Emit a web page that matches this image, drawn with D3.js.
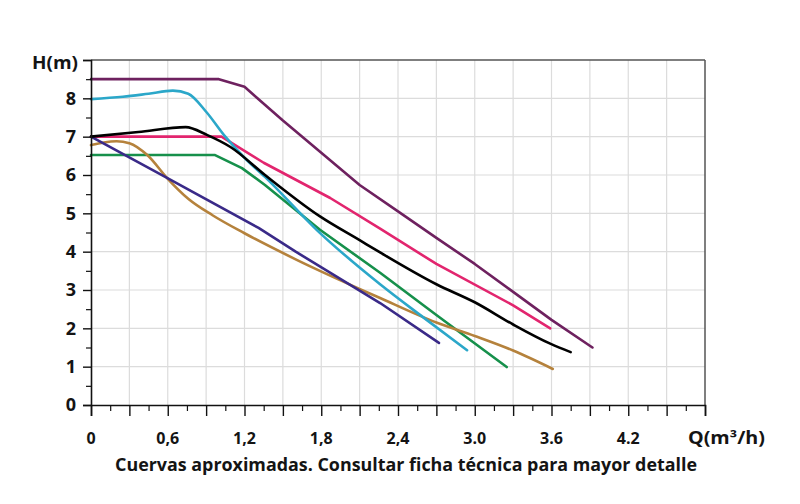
<!DOCTYPE html>
<html><head><meta charset="utf-8">
<script src="https://cdn.jsdelivr.net/npm/d3@7"></script>
<style>
html,body{margin:0;padding:0;background:#fff;}
svg{display:block;}
text{font-family:"Open Sans",Lato,sans-serif;font-weight:700;fill:#141414;}
</style></head><body>
<svg id="chart" width="800" height="504"></svg>
<script>
// ---- data ----
const xTickLabels = ["0","0,6","1,2","1,8","2,4","3.0","3.6","4.2"];
const xTickValues = [0,0.6,1.2,1.8,2.4,3.0,3.6,4.2];
const yTickValues = [0,1,2,3,4,5,6,7,8];
const xTitle = "Q(m³/h)";
const yTitle = "H(m)";
const caption = "Cuervas aproximadas. Consultar ficha técnica para mayor detalle";

const purpleQ = [0,1.0,1.2,1.5,1.8,2.1,2.4,2.7,3.0,3.3,3.6,3.92];
const purpleH = [8.5,8.5,8.3,7.42,6.58,5.74,5.05,4.36,3.68,2.95,2.22,1.5];
const cyanQ = [0,0.25,0.45,0.64,0.76,0.9,1.05,1.2,1.36,1.77,2.26,2.6,2.94];
const cyanH = [7.98,8.04,8.12,8.2,8.12,7.65,7.0,6.45,5.95,4.55,3.15,2.28,1.43];
const blackQ = [0,0.37,0.74,0.91,1.09,1.36,1.79,2.1,2.26,2.7,3.0,3.3,3.59,3.75];
const blackH = [7.0,7.12,7.25,7.04,6.73,6.0,4.92,4.3,3.98,3.15,2.68,2.1,1.6,1.38];
const pinkQ = [0,1.02,1.35,1.87,2.26,2.7,3.3,3.59];
const pinkH = [7.0,7.0,6.32,5.4,4.6,3.68,2.6,2.0];
const greenQ = [0,0.97,1.18,1.36,1.79,2.26,2.7,3.25];
const greenH = [6.52,6.52,6.18,5.74,4.57,3.45,2.35,0.99];
const brownQ = [0,0.1,0.2,0.3,0.44,0.6,0.76,0.95,1.2,1.6,2.26,2.7,3.0,3.3,3.61];
const brownH = [6.78,6.85,6.88,6.83,6.52,5.9,5.38,4.95,4.48,3.8,2.79,2.15,1.8,1.42,0.94];
const indigoQ = [0,0.58,1.31,1.6,2.26,2.72];
const indigoH = [7.0,5.95,4.62,4.0,2.66,1.62];

const series = [
  {q: purpleQ, h: purpleH, color: "#6e215f", smooth: false},
  {q: pinkQ, h: pinkH, color: "#e2256e", smooth: false},
  {q: greenQ, h: greenH, color: "#16904b", smooth: false},
  {q: brownQ, h: brownH, color: "#b5823c", smooth: true},
  {q: indigoQ, h: indigoH, color: "#3a2a88", smooth: false},
  {q: cyanQ, h: cyanH, color: "#2ba7c9", smooth: true},
  {q: blackQ, h: blackH, color: "#000000", smooth: true}
];

// ---- layout ----
const svg = d3.select("#chart");
const x = d3.scaleLinear().domain([0,4.8]).range([91,705]);
const y = d3.scaleLinear().domain([0,9]).range([405,60]);

// grid
const vGrid = d3.range(1,16).map(i => i*0.3);
svg.append("g").selectAll("line").data(vGrid).join("line")
  .attr("x1", d=>x(d)).attr("x2", d=>x(d)).attr("y1", y(0)).attr("y2", y(9))
  .attr("stroke", "#dcdcdc").attr("stroke-width", 1.2);
svg.append("g").selectAll("line").data(d3.range(1,9)).join("line")
  .attr("x1", x(0)).attr("x2", x(4.8)).attr("y1", d=>y(d)).attr("y2", d=>y(d))
  .attr("stroke", "#dcdcdc").attr("stroke-width", 1.2);

// frame top & right
svg.append("line").attr("x1", x(0)).attr("x2", x(4.8)).attr("y1", y(9)).attr("y2", y(9))
  .attr("stroke", "#555").attr("stroke-width", 1.5);
svg.append("line").attr("x1", x(4.8)).attr("x2", x(4.8)).attr("y1", y(9)).attr("y2", y(0))
  .attr("stroke", "#555").attr("stroke-width", 1.5);

// curves
const lineSm = d3.line().x(d=>x(d[0])).y(d=>y(d[1])).curve(d3.curveMonotoneX);
const lineLin = d3.line().x(d=>x(d[0])).y(d=>y(d[1])).curve(d3.curveLinear);
svg.append("g").selectAll("path").data(series).join("path")
  .attr("d", s => (s.smooth ? lineSm : lineLin)(s.q.map((v,i)=>[v, s.h[i]])))
  .attr("fill", "none").attr("stroke", s=>s.color).attr("stroke-width", 2.6)
  .attr("stroke-linecap", "round").attr("stroke-linejoin", "round");

// x axis
const xAxis = d3.axisBottom(x).tickValues(d3.range(0,17).map(i=>i*0.3)).tickSize(11).tickFormat("");
const gx = svg.append("g").attr("transform", `translate(0,${y(0)})`).call(xAxis);
gx.select(".domain").attr("stroke", "#111").attr("stroke-width", 1.6);
gx.selectAll(".tick line").attr("stroke", "#111").attr("stroke-width", 1.4);
const xMinor = d3.axisBottom(x).tickValues(d3.range(0,16).map(i=>i*0.3+0.15)).tickSize(6).tickFormat("");
const gxm = svg.append("g").attr("transform", `translate(0,${y(0)})`).call(xMinor);
gxm.select(".domain").remove();
gxm.selectAll(".tick line").attr("stroke", "#111").attr("stroke-width", 1.2);
svg.append("g").selectAll("text").data(xTickValues).join("text")
  .attr("x", d=>x(d)).attr("y", 444).attr("text-anchor", "middle")
  .attr("font-size", 16).text((d,i)=>xTickLabels[i]);
svg.append("text").attr("x", 688).attr("y", 444).attr("font-size", 17)
  .attr("textLength", 77).attr("lengthAdjust", "spacingAndGlyphs").text(xTitle);

// y axis
const yAxis = d3.axisLeft(y).tickValues(d3.range(0,10)).tickSize(8).tickFormat("");
const gy = svg.append("g").attr("transform", `translate(${x(0)},0)`).call(yAxis);
gy.select(".domain").attr("stroke", "#111").attr("stroke-width", 1.6);
gy.selectAll(".tick line").attr("stroke", "#111").attr("stroke-width", 1.4);
const yMinor = d3.axisLeft(y).tickValues(d3.range(0,9).map(i=>i+0.5)).tickSize(5).tickFormat("");
const gym = svg.append("g").attr("transform", `translate(${x(0)},0)`).call(yMinor);
gym.select(".domain").remove();
gym.selectAll(".tick line").attr("stroke", "#111").attr("stroke-width", 1.2);
svg.append("g").selectAll("text").data(yTickValues).join("text")
  .attr("x", 76).attr("y", d=>y(d)).attr("dy", "0.36em").attr("text-anchor", "end")
  .attr("font-size", 18).text(d=>d);
svg.append("text").attr("x", 78).attr("y", 69).attr("text-anchor", "end")
  .attr("font-size", 18).attr("textLength", 46).attr("lengthAdjust", "spacingAndGlyphs").text(yTitle);

// caption
svg.append("text").attr("x", 406).attr("y", 471).attr("text-anchor", "middle")
  .attr("font-size", 17).attr("textLength", 582).attr("lengthAdjust", "spacingAndGlyphs").text(caption);
</script>
</body></html>
